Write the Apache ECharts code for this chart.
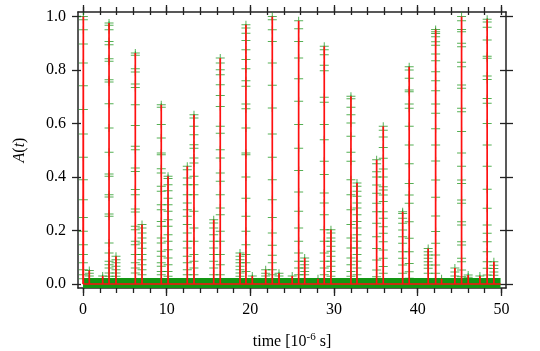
<!DOCTYPE html>
<html>
<head>
<meta charset="utf-8">
<script src="https://cdn.jsdelivr.net/npm/echarts@6/dist/echarts.min.js"></script>
<style>
  html, body { margin: 0; padding: 0; background: #fff; }
  #main { width: 540px; height: 351px; }
</style>
</head>
<body>
<div id="main"></div>
<script>
// burst times [10^-6 s]
var burstTimes = [0.04, 0.75, 2.35, 3.11, 3.94, 6.25, 7.05, 9.35, 10.16, 12.46, 13.26, 15.62, 16.40, 18.76,
  19.47, 20.23, 21.83, 22.62, 23.42, 25.0, 25.77, 26.49, 28.08, 28.83, 29.63, 32.02, 32.74, 35.09, 35.88,
  38.2, 38.98, 41.25, 42.14, 42.85, 44.44, 45.24, 46.03, 47.43, 48.30, 49.1];

// sampled A(t) values inside each burst
var burstSamples = [
  [1.0, 0.988, 0.951, 0.897, 0.826, 0.741, 0.652, 0.561, 0.474, 0.39, 0.315, 0.249, 0.197, 0.147, 0.11, 0.079, 0.053, 0.035, 0.02],
  [0.05, 0.04, 0.03, 0.02],
  [0.03, 0.02],
  [0.976, 0.967, 0.951, 0.907, 0.895, 0.842, 0.833, 0.764, 0.755, 0.674, 0.583, 0.493, 0.411, 0.403, 0.334, 0.325, 0.262, 0.253, 0.153, 0.116, 0.085, 0.072, 0.06, 0.041, 0.029],
  [0.104, 0.091, 0.079, 0.066, 0.053, 0.041, 0.029],
  [0.864, 0.855, 0.805, 0.793, 0.748, 0.735, 0.67, 0.593, 0.515, 0.502, 0.434, 0.421, 0.353, 0.334, 0.28, 0.269, 0.216, 0.203, 0.16, 0.147, 0.11, 0.079, 0.06, 0.041],
  [0.222, 0.209, 0.191, 0.172, 0.153, 0.134, 0.11, 0.091, 0.072, 0.053, 0.035],
  [0.67, 0.661, 0.596, 0.546, 0.49, 0.483, 0.431, 0.415, 0.365, 0.347, 0.296, 0.278, 0.234, 0.216, 0.172, 0.153, 0.122, 0.104, 0.079, 0.066, 0.047, 0.035],
  [0.403, 0.394, 0.371, 0.349, 0.321, 0.296, 0.272, 0.24, 0.216, 0.184, 0.16, 0.128, 0.097, 0.072, 0.047, 0.029],
  [0.44, 0.427, 0.396, 0.371, 0.334, 0.303, 0.278, 0.253, 0.222, 0.191, 0.16, 0.135, 0.104, 0.079, 0.053, 0.035],
  [0.633, 0.621, 0.59, 0.558, 0.521, 0.508, 0.471, 0.452, 0.403, 0.371, 0.334, 0.272, 0.209, 0.16, 0.11, 0.085, 0.06, 0.035],
  [0.24, 0.228, 0.209, 0.184, 0.16, 0.135, 0.11, 0.085, 0.06, 0.035],
  [0.845, 0.826, 0.801, 0.782, 0.745, 0.705, 0.664, 0.59, 0.564, 0.502, 0.471, 0.415, 0.384, 0.334, 0.284, 0.259, 0.197, 0.16, 0.11, 0.072, 0.035],
  [0.116, 0.104, 0.091, 0.079, 0.066, 0.053, 0.041, 0.029],
  [0.969, 0.957, 0.938, 0.91, 0.876, 0.839, 0.805, 0.76, 0.739, 0.673, 0.655, 0.583, 0.49, 0.483, 0.4, 0.321, 0.253, 0.197, 0.147, 0.11, 0.079, 0.047],
  [0.03, 0.02],
  [0.053, 0.04, 0.03],
  [1.0, 0.988, 0.951, 0.907, 0.826, 0.743, 0.658, 0.561, 0.474, 0.39, 0.315, 0.249, 0.191, 0.145, 0.107, 0.079, 0.053, 0.035],
  [0.04, 0.03],
  [0.03],
  [0.984, 0.954, 0.907, 0.845, 0.767, 0.683, 0.596, 0.508, 0.424, 0.344, 0.272, 0.209, 0.16, 0.116, 0.085, 0.06, 0.035],
  [0.097, 0.085, 0.072, 0.06, 0.047, 0.035],
  [0.02],
  [0.889, 0.876, 0.857, 0.818, 0.797, 0.698, 0.68, 0.596, 0.539, 0.459, 0.409, 0.34, 0.303, 0.259, 0.203, 0.16, 0.116, 0.085, 0.06, 0.035],
  [0.203, 0.191, 0.172, 0.16, 0.141, 0.122, 0.104, 0.085, 0.066, 0.047, 0.029],
  [0.702, 0.693, 0.661, 0.633, 0.602, 0.552, 0.493, 0.459, 0.39, 0.334, 0.278, 0.222, 0.172, 0.135, 0.097, 0.072, 0.047, 0.029],
  [0.378, 0.365, 0.347, 0.328, 0.303, 0.284, 0.259, 0.234, 0.209, 0.184, 0.16, 0.135, 0.11, 0.085, 0.06, 0.035],
  [0.465, 0.45, 0.42, 0.4, 0.37, 0.339, 0.302, 0.27, 0.227, 0.177, 0.133, 0.09, 0.052, 0.027],
  [0.59, 0.575, 0.55, 0.51, 0.47, 0.43, 0.4, 0.364, 0.351, 0.333, 0.308, 0.27, 0.246, 0.214, 0.19, 0.158, 0.127, 0.096, 0.065, 0.04],
  [0.27, 0.264, 0.246, 0.227, 0.202, 0.177, 0.152, 0.121, 0.096, 0.071, 0.04],
  [0.812, 0.8, 0.769, 0.725, 0.719, 0.673, 0.657, 0.59, 0.52, 0.45, 0.376, 0.333, 0.302, 0.233, 0.171, 0.121, 0.077, 0.046, 0.021],
  [0.133, 0.121, 0.108, 0.096, 0.083, 0.071, 0.059, 0.04],
  [0.952, 0.943, 0.937, 0.924, 0.906, 0.893, 0.86, 0.835, 0.794, 0.76, 0.723, 0.673, 0.638, 0.58, 0.52, 0.46, 0.389, 0.324, 0.254, 0.196, 0.152, 0.108, 0.071, 0.04],
  [0.02],
  [0.06, 0.045, 0.03],
  [1.0, 0.984, 0.952, 0.943, 0.9, 0.887, 0.829, 0.812, 0.744, 0.732, 0.657, 0.644, 0.57, 0.49, 0.44, 0.389, 0.376, 0.314, 0.302, 0.233, 0.221, 0.158, 0.146, 0.096, 0.083, 0.052, 0.027],
  [0.034, 0.025],
  [0.03, 0.02],
  [0.99, 0.98, 0.96, 0.912, 0.852, 0.844, 0.778, 0.765, 0.694, 0.676, 0.6, 0.52, 0.44, 0.354, 0.283, 0.221, 0.19, 0.158, 0.121, 0.083, 0.059, 0.034],
  [0.083, 0.07, 0.058, 0.045, 0.033]
];

// quiet stretch between bursts (start, end) and its level
var timeRange = [0, 49.9];
var baseLevel = 0.004;

var xMajor = [0, 10, 20, 30, 40, 50];
var xMinor = [0, 2, 4, 6, 8, 10, 12, 14, 16, 18, 20, 22, 24, 26, 28, 30, 32, 34, 36, 38, 40, 42, 44, 46, 48, 50];
var yMajor = [0, 0.2, 0.4, 0.6, 0.8, 1.0];

var serif = '"Liberation Serif", "DejaVu Serif", serif';

// red trace: baseline -> peak -> baseline at each burst
var trace = [[timeRange[0], 0]];
var points = [];
burstTimes.forEach(function (t, i) {
  var s = burstSamples[i];
  var peak = Math.max.apply(null, s);
  trace.push([t, 0], [t, peak], [t, 0]);
  s.forEach(function (v) { points.push([t, v]); });
});
trace.push([timeRange[1], 0]);

var xMin = -0.6, xMax = 50.55, yMin = -0.015, yMax = 1.017;

function xAx(pos, vals, len, inside, label, line) {
  return {
    type: 'value', position: pos, min: xMin, max: xMax,
    axisLine: { show: line, onZero: false, lineStyle: { color: '#222', width: 1.5 } },
    axisTick: { show: true, inside: inside, length: len, customValues: vals, lineStyle: { color: '#222', width: 1.3 } },
    axisLabel: { show: label, customValues: vals, margin: 14, color: '#000', fontFamily: serif, fontSize: 16 },
    splitLine: { show: false }
  };
}
function yAx(pos, vals, len, inside, label, line) {
  return {
    type: 'value', position: pos, min: yMin, max: yMax,
    axisLine: { show: line, onZero: false, lineStyle: { color: '#222', width: 1.5 } },
    axisTick: { show: true, inside: inside, length: len, customValues: vals, lineStyle: { color: '#222', width: 1.3 } },
    axisLabel: { show: label, customValues: vals, margin: 12, color: '#000', fontFamily: serif, fontSize: 16,
      formatter: function (v) { return v.toFixed(1); } },
    splitLine: { show: false }
  };
}

var xAxes = [
  xAx('bottom', xMajor, 8, false, true, true),
  xAx('bottom', xMinor, 5, false, false, false),
  xAx('top', xMajor, 7, false, false, true),
  xAx('top', xMinor, 5, false, false, false),
  xAx('top', xMinor, 3, true, false, false)
];
xAxes[0].name = 'time [10{s|-6} s]';
xAxes[0].nameLocation = 'middle';
xAxes[0].nameGap = 44;
xAxes[0].nameTextStyle = { fontFamily: serif, fontSize: 16, color: '#000',
  rich: { s: { fontFamily: serif, fontSize: 11, color: '#000', verticalAlign: 'bottom', padding: [0, 0, 8, 0] } } };

var yAxes = [
  yAx('left', yMajor, 6, false, true, true),
  yAx('left', yMajor, 3, true, false, false),
  yAx('right', yMajor, 7, false, false, true),
  yAx('right', yMajor, 6, true, false, false)
];
yAxes[0].name = '{i|A}(' + '{i|t})';
yAxes[0].nameLocation = 'middle';
yAxes[0].nameRotate = 90;
yAxes[0].nameGap = 50;
yAxes[0].nameTextStyle = { fontFamily: serif, fontSize: 16, color: '#000',
  rich: { i: { fontFamily: serif, fontSize: 16, fontStyle: 'italic', color: '#000' } } };

var plusPath = 'path://M0,3.5H9V4.5H0Z M4,0H5V8H4Z';

var option = {
  animation: false,
  backgroundColor: '#fff',
  grid: { left: 78, right: 34, top: 12, bottom: 63, containLabel: false, outerBoundsMode: 'none' },
  xAxis: xAxes,
  yAxis: yAxes,
  series: [
    {
      // dense baseline samples
      type: 'line',
      data: [[timeRange[0], baseLevel], [timeRange[1], baseLevel]],
      symbol: 'none',
      lineStyle: { color: '#139613', width: 10, cap: 'butt' },
      z: 1
    },
    {
      type: 'scatter',
      data: points,
      symbol: plusPath,
      symbolSize: [9, 8],
      itemStyle: { color: 'rgba(20,145,20,0.9)' },
      z: 2
    },
    {
      type: 'line',
      data: trace,
      symbol: 'none',
      lineStyle: { color: '#ff1010', width: 1.7 },
      z: 3
    }
  ]
};

var chart = echarts.init(document.getElementById('main'));
chart.setOption(option);
</script>
</body>
</html>
